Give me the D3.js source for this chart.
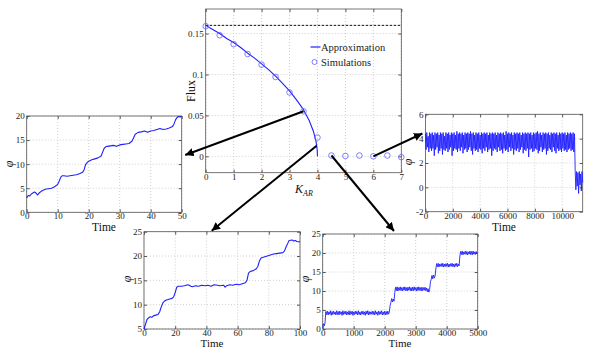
<!DOCTYPE html>
<html lang="en">
<head>
<meta charset="UTF-8" />
<title>Flux vs K_AR with phase traces</title>
<script src="https://d3js.org/d3.v7.min.js"></script>
<style>
  body { margin: 0; background: #fff; }
  svg { display: block; font-family: "Liberation Serif", "DejaVu Serif", serif; }
  .axis text { font-size: 9px; fill: #222; font-family: "Liberation Serif", "DejaVu Serif", serif; }
  .axis line { stroke: #555; }
  .grid line { stroke: #cfcfcf; stroke-dasharray: 1,2; }
</style>
</head>
<body>
<script>
// ---- main panel: flux vs K_AR ----
var kSim = [0, 0.5, 1, 1.5, 2, 2.5, 3, 3.5, 4, 4.5, 5, 5.5, 6, 6.5, 7];
var fluxSim = [0.159, 0.148, 0.137, 0.125, 0.112, 0.097, 0.078, 0.055, 0.023, 0.001, 0.0005, 0.001, 0, 0.001, -0.001];
var kApprox = [0, 0.25, 0.5, 0.75, 1, 1.25, 1.5, 1.75, 2, 2.25, 2.5, 2.75, 3, 3.25, 3.5, 3.7, 3.85, 3.95, 3.99, 4];
var fluxApprox = [0.16, 0.155, 0.150, 0.144, 0.139, 0.133, 0.126, 0.120, 0.113, 0.106, 0.098, 0.089, 0.080, 0.069, 0.057, 0.044, 0.031, 0.018, 0.008, 0];
var fluxMax = 0.16;
var mainXTicks = [0, 1, 2, 3, 4, 5, 6, 7];
var mainYTicks = [0, 0.05, 0.1, 0.15];

// ---- left inset: K_AR = 3.5, phi vs time ----
var leftTrace = [[0,3.0],[0.5,3.5],[1,3.4],[1.5,3.8],[2,4.0],[2.5,4.2],[3,4.0],[3.5,3.6],[4,4.0],[5,4.5],[6,4.8],[7,4.9],[8,5.0],[9,5.3],[10,5.8],[10.5,6.5],[11,7.3],[11.5,7.6],[12,7.6],[13,7.5],[14,7.6],[15,7.7],[16,7.8],[17,8.0],[18,8.3],[18.5,8.8],[19,9.9],[19.5,10.3],[20,10.6],[21,10.9],[22,11.1],[23,11.3],[24,11.7],[24.5,12.5],[25,13.3],[25.5,13.6],[26,13.7],[27,13.8],[28,13.9],[29,13.7],[30,14.0],[31,14.1],[32,14.2],[33,14.3],[34,14.8],[34.5,15.5],[35,16.2],[36,16.6],[37,16.7],[38,16.9],[39,16.6],[40,16.9],[41,17.0],[42,17.2],[43,17.4],[44,17.2],[45,17.3],[46,17.5],[47,17.8],[47.5,18.3],[48,19.2],[48.5,19.7],[49,19.9],[49.5,19.8],[50,19.9]];
var leftXTicks = [0, 10, 20, 30, 40, 50];
var leftYTicks = [0, 5, 10, 15, 20];

// ---- bottom-left inset: K_AR = 4, phi vs time ----
var bottomLeftTrace = [[0,5],[1,6],[2,7],[3,7.3],[4,7.5],[5,7.4],[6,7.7],[7,7.8],[8,7.9],[9,8.0],[10,8.5],[11,9.5],[12,10.3],[13,10.7],[14,10.9],[15,11.0],[16,11.1],[17,11.2],[18,11.3],[19,11.6],[20,12.5],[21,13.6],[22,13.8],[24,13.8],[26,13.9],[28,14.1],[29,14.0],[30,13.8],[31,13.7],[33,13.9],[35,13.8],[37,14.0],[39,13.9],[41,14.0],[43,13.8],[45,14.1],[47,14.0],[49,13.9],[51,14.0],[52,13.6],[53,13.9],[55,14.1],[57,14.0],[59,14.2],[61,14.1],[63,14.3],[65,14.5],[66,15.0],[67,16.5],[68,16.8],[70,17.0],[72,17.4],[73,17.9],[74,19.0],[75,19.6],[77,19.8],[79,20.0],[81,20.2],[83,20.4],[85,20.5],[87,20.6],[89,20.7],[90,21.0],[91,21.8],[92,22.5],[93,23.2],[95,23.3],[96,23.1],[97,23.2],[98,23.0],[100,22.9]];
var bottomLeftXTicks = [0, 20, 40, 60, 80, 100];
var bottomLeftYTicks = [5, 10, 15, 20, 25];

// ---- bottom-right inset: K_AR = 4.5, sampled every 25 time units ----
var bottomRightStep = 25;
var bottomRightPhi = [
  0.4,1.4,0.8,1.6,
  4.6,3.8,4.7,3.7,4.5,3.9,4.8,3.6,4.6,3.8,
  4.7,3.9,4.5,3.7,4.8,3.8,4.6,3.7,4.7,3.9,
  4.5,3.6,4.8,3.8,4.6,3.9,4.7,3.7,4.5,3.8,
  4.8,3.7,4.6,3.9,4.7,3.6,4.5,3.8,4.7,3.9,
  4.6,3.7,4.8,3.8,4.5,3.7,4.6,3.9,4.7,3.8,
  4.5,3.6,4.7,3.9,4.8,3.7,4.6,3.8,4.5,3.9,
  4.7,3.8,4.6,3.7,4.8,3.9,4.5,3.6,4.7,3.8,
  4.6,3.9,4.8,3.7,4.5,3.8,4.7,3.7,4.6,3.8,
  4.7,3.9,4.5,
  6.2,
  7.0,8.0,7.1,7.9,7.3,
  9.6,
  11.0,10.1,11.1,10.0,10.9,10.2,11.1,10.1,10.9,10.0,
  11.0,10.2,11.1,10.1,10.9,10.0,11.0,10.2,11.1,10.1,
  10.9,10.0,11.0,10.1,11.1,10.2,10.9,10.0,11.0,10.1,
  11.1,10.2,10.9,10.0,11.0,10.1,10.9,10.2,11.0,10.1,
  10.8,9.8,10.6,9.7,10.4,
  12.4,
  13.0,14.1,13.2,14.2,13.4,13.9,
  15.8,
  17.2,16.4,17.3,16.3,17.1,16.5,17.2,16.4,17.3,16.3,
  17.1,16.4,17.2,16.5,17.3,16.3,17.1,16.4,17.2,16.5,
  17.3,16.4,17.1,16.3,17.2,16.5,17.3,16.4,17.1,16.6,
  19.2,
  20.4,19.6,20.5,19.5,20.3,19.7,20.5,19.6,20.4,19.5,
  20.3,19.7,20.5,19.6,20.4,19.5,20.5,19.7,20.3,19.6,
  20.4,19.8,20.1
];
var bottomRightXTicks = [0, 1000, 2000, 3000, 4000, 5000];
var bottomRightYTicks = [0, 5, 10, 15, 20, 25];

// ---- right inset: K_AR = 6, sampled every 50 time units ----
var rightStep = 50;
var rightPhi = [
  4.4,3.1,4.5,3.3,4.2,2.9,4.5,3.2,4.4,3.0,
  4.5,3.2,4.3,2.6,4.5,3.1,4.4,3.3,4.5,2.8,
  4.3,3.0,4.5,3.2,4.4,2.7,4.5,3.1,4.2,3.0,
  4.5,3.2,4.4,2.9,4.5,3.1,4.3,3.3,4.5,2.6,
  4.4,3.0,4.5,3.2,4.3,3.1,4.6,2.9,4.4,3.2,
  4.5,3.0,4.4,3.3,4.5,2.8,4.3,3.1,4.5,3.2,
  4.4,2.9,4.5,3.1,4.4,3.3,4.6,3.0,4.4,2.7,
  4.5,3.2,4.3,3.0,4.5,3.1,4.4,2.9,4.5,3.2,
  4.3,3.1,4.5,2.8,4.4,3.2,4.5,3.0,4.4,3.3,
  4.5,2.9,4.3,3.1,4.5,3.2,4.4,2.6,4.5,3.0,
  4.4,3.2,4.5,3.1,4.3,2.9,4.5,3.3,4.4,3.0,
  4.5,3.1,4.4,2.8,4.5,3.2,4.3,3.0,4.6,3.1,
  4.4,2.9,4.5,3.3,4.4,3.0,4.5,3.2,4.3,2.7,
  4.5,3.1,4.4,3.0,4.5,3.2,4.4,2.9,4.5,3.1,
  4.3,3.3,4.5,2.8,4.4,3.1,4.5,3.0,4.4,3.2,
  4.5,2.5,4.4,3.1,4.5,3.2,4.3,2.9,4.5,3.0,
  4.4,3.2,4.5,3.1,4.6,2.8,4.4,3.0,4.5,3.3,
  4.3,2.9,4.5,3.1,4.4,3.2,4.5,2.7,4.4,3.0,
  4.5,3.2,4.3,3.1,4.5,2.9,4.4,3.3,4.5,3.0,
  4.4,2.8,4.5,3.2,4.3,3.0,4.5,3.1,4.4,2.9,
  4.5,3.2,4.4,3.0,4.5,3.1,4.3,2.9,4.5,3.1,
  4.4,3.2,4.5,3.0,4.4,3.1,4.5,2.9,4.4,
  1.4,
  -0.2,1.3,0.1,1.2,-0.5,1.3,0.2,1.1,-0.3,1.3,0.4
];
var rightXTicks = [0, 2000, 4000, 6000, 8000, 10000];
var rightYTicks = [-2, 0, 2, 4, 6];

var W = 603, H = 349;
var blue = "#1f1fff";

var svg = d3.select("body").append("svg")
    .attr("width", W)
    .attr("height", H);

svg.append("defs").append("marker")
    .attr("id", "head")
    .attr("viewBox", "0 0 10 10")
    .attr("refX", 10).attr("refY", 5)
    .attr("markerWidth", 4.2).attr("markerHeight", 4.2)
    .attr("markerUnits", "strokeWidth")
    .attr("orient", "auto")
  .append("path")
    .attr("d", "M0,0L10,5L0,10z")
    .attr("fill", "#000");

// draws box, grid, ticks for one panel and returns its scales
function panel(o) {
    var x = d3.scaleLinear().domain(o.xDomain).range([o.left, o.right]);
    var y = d3.scaleLinear().domain(o.yDomain).range([o.bottom, o.top]);
    var g = svg.append("g");

    g.append("rect")
        .attr("x", o.left).attr("y", o.top)
        .attr("width", o.right - o.left).attr("height", o.bottom - o.top)
        .attr("fill", "#fff");

    var grid = g.append("g").attr("class", "grid");
    grid.selectAll(".gx").data(o.xTicks).enter().append("line")
        .attr("x1", x).attr("x2", x)
        .attr("y1", o.top).attr("y2", o.bottom);
    grid.selectAll(".gy").data(o.yTicks).enter().append("line")
        .attr("y1", y).attr("y2", y)
        .attr("x1", o.left).attr("x2", o.right);

    var fmtX = o.xFormat || function (d) { return d; };
    var fmtY = o.yFormat || function (d) { return d; };

    g.append("g").attr("class", "axis")
        .attr("transform", "translate(0," + o.bottom + ")")
        .call(d3.axisBottom(x).tickValues(o.xTicks).tickSizeInner(-3).tickSizeOuter(0).tickPadding(0.5).tickFormat(fmtX))
        .call(function (s) { s.select(".domain").remove(); });
    g.append("g").attr("class", "axis")
        .attr("transform", "translate(" + o.left + ",0)")
        .call(d3.axisLeft(y).tickValues(o.yTicks).tickSizeInner(-3).tickSizeOuter(0).tickPadding(2).tickFormat(fmtY))
        .call(function (s) { s.select(".domain").remove(); });
    g.append("g").attr("class", "axis")
        .attr("transform", "translate(0," + o.top + ")")
        .call(d3.axisTop(x).tickValues(o.xTicks).tickSizeInner(-3).tickSizeOuter(0).tickFormat(""))
        .call(function (s) { s.select(".domain").remove(); });
    g.append("g").attr("class", "axis")
        .attr("transform", "translate(" + o.right + ",0)")
        .call(d3.axisRight(y).tickValues(o.yTicks).tickSizeInner(-3).tickSizeOuter(0).tickFormat(""))
        .call(function (s) { s.select(".domain").remove(); });

    g.append("rect")
        .attr("x", o.left).attr("y", o.top)
        .attr("width", o.right - o.left).attr("height", o.bottom - o.top)
        .attr("fill", "none").attr("stroke", "#555").attr("stroke-width", 0.8);

    return { x: x, y: y, g: g, o: o };
}

function axisTitle(text, px, py, rotate, size, italic) {
    svg.append("text")
        .attr("transform", "translate(" + px + "," + py + ")" + (rotate ? " rotate(-90)" : ""))
        .attr("text-anchor", "middle")
        .attr("dominant-baseline", "central")
        .attr("font-size", size)
        .attr("font-style", italic ? "italic" : "normal")
        .attr("fill", "#111")
        .text(text);
}

function trace(p, pts, width) {
    var line = d3.line()
        .x(function (d) { return p.x(d[0]); })
        .y(function (d) { return p.y(d[1]); });
    p.g.append("path")
        .datum(pts)
        .attr("d", line)
        .attr("fill", "none")
        .attr("stroke", blue)
        .attr("stroke-width", width)
        .attr("stroke-linejoin", "round");
}

// ---- main panel ----
var main = panel({
    left: 205.7, right: 401.3, top: 9, bottom: 172.7,
    xDomain: [0, 7], yDomain: [-0.02, 0.18],
    xTicks: mainXTicks, yTicks: mainYTicks
});

main.g.append("line")
    .attr("x1", main.x(0)).attr("x2", main.x(7))
    .attr("y1", main.y(fluxMax)).attr("y2", main.y(fluxMax))
    .attr("stroke", "#111").attr("stroke-width", 1)
    .attr("stroke-dasharray", "2.5,1.5");

var approxPts = kApprox.map(function (k, i) { return [k, fluxApprox[i]]; });
trace(main, approxPts, 1.1);

main.g.selectAll(".sim")
    .data(kSim.map(function (k, i) { return [k, fluxSim[i]]; }))
    .enter().append("circle")
    .attr("cx", function (d) { return main.x(d[0]); })
    .attr("cy", function (d) { return main.y(d[1]); })
    .attr("r", 2.8)
    .attr("fill", "none")
    .attr("stroke", "#6060ff")
    .attr("stroke-width", 0.8);

// legend
var leg = main.g.append("g");
leg.append("line").attr("x1", 310.5).attr("x2", 320.5).attr("y1", 47).attr("y2", 47)
    .attr("stroke", blue).attr("stroke-width", 1.2);
leg.append("text").attr("x", 321).attr("y", 47).attr("dominant-baseline", "central")
    .attr("font-size", 10.5).attr("fill", "#222").text("Approximation");
leg.append("circle").attr("cx", 314.5).attr("cy", 62).attr("r", 2.5)
    .attr("fill", "none").attr("stroke", "#6060ff").attr("stroke-width", 0.8);
leg.append("text").attr("x", 321).attr("y", 62).attr("dominant-baseline", "central")
    .attr("font-size", 10.5).attr("fill", "#222").text("Simulations");

axisTitle("Flux", 191, 91, true, 12, false);
var kLab = svg.append("text").attr("x", 295).attr("y", 193)
    .attr("font-size", 12).attr("font-style", "italic").attr("fill", "#111");
kLab.append("tspan").text("K");
kLab.append("tspan").attr("font-size", 8).attr("dy", 2.5).text("AR");

// ---- insets ----
var left = panel({
    left: 26.7, right: 181.7, top: 116, bottom: 212.3,
    xDomain: [0, 50], yDomain: [0, 20],
    xTicks: leftXTicks, yTicks: leftYTicks
});
trace(left, leftTrace, 1.1);
axisTitle("φ", 9, 164, true, 12, true);
axisTitle("Time", 104, 227, false, 11.5, false);

var right = panel({
    left: 425.4, right: 582.7, top: 114.3, bottom: 211.7,
    xDomain: [0, 11500], yDomain: [-2, 6],
    xTicks: rightXTicks, yTicks: rightYTicks,
    xFormat: d3.format("d")
});
trace(right, rightPhi.map(function (v, i) { return [i * rightStep, v]; }), 0.9);
axisTitle("φ", 408, 162, true, 12, true);
axisTitle("Time", 504, 227, false, 11.5, false);

var bl = panel({
    left: 144, right: 300, top: 231.7, bottom: 329,
    xDomain: [0, 100], yDomain: [5, 25],
    xTicks: bottomLeftXTicks, yTicks: bottomLeftYTicks
});
trace(bl, bottomLeftTrace, 1.1);
axisTitle("φ", 127, 279, true, 12, true);
axisTitle("Time", 212, 342.5, false, 11, false);

var br = panel({
    left: 322.7, right: 477.7, top: 234, bottom: 329,
    xDomain: [0, 5000], yDomain: [0, 25],
    xTicks: bottomRightXTicks, yTicks: bottomRightYTicks,
    xFormat: d3.format("d")
});
trace(br, bottomRightPhi.map(function (v, i) { return [i * bottomRightStep, v]; }), 0.9);
axisTitle("φ", 305, 279, true, 12, true);
axisTitle("Time", 400, 342.5, false, 11, false);

// ---- arrows from the flux curve to the insets ----
var arrows = [
    [main.x(3.5), main.y(0.055), left.o.right + 3.5, 155],
    [main.x(3.97), main.y(0.013), 211.7, bl.o.top - 1],
    [main.x(4.5), main.y(0.001), 394, br.o.top - 3],
    [main.x(6), main.y(0), right.o.left - 3, 133.5]
];
svg.selectAll(".arrow")
    .data(arrows)
    .enter().append("line")
    .attr("x1", function (d) { return d[0]; })
    .attr("y1", function (d) { return d[1]; })
    .attr("x2", function (d) { return d[2]; })
    .attr("y2", function (d) { return d[3]; })
    .attr("stroke", "#000")
    .attr("stroke-width", 2)
    .attr("marker-end", "url(#head)");
</script>
</body>
</html>
